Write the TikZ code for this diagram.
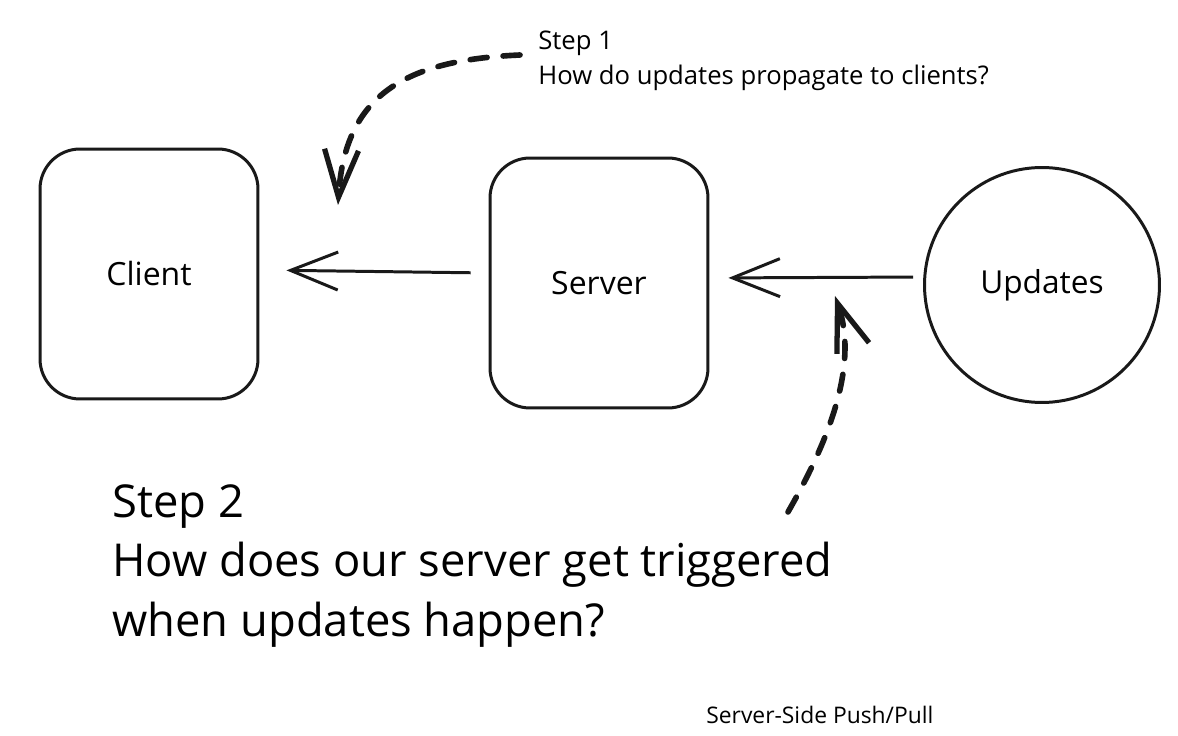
\documentclass[tikz,border=0pt]{standalone}
\usepackage{fontspec}
\setmainfont{Open Sans}
\usetikzlibrary{arrows.meta}
\tikzset{
  block/.style  = {draw=black!90, line width=1.7pt, rounded corners=0.8cm,
                   minimum width=4.36cm, minimum height=5cm,
                   font=\fontsize{18.2}{21}\selectfont},
  source/.style = {circle, draw=black!90, line width=1.7pt,
                   minimum size=4.7cm, font=\fontsize{18}{21}\selectfont},
  flow/.style   = {line width=1.7pt, black!90,
                   -{Straight Barb[length=0.95cm,width=0.76cm,line width=1.7pt]}},
  hint/.style   = {line width=3.2pt, black!90, line cap=round,
                   dash pattern=on 0.34cm off 0.32cm,
                   -{Straight Barb[length=0.95cm,width=0.68cm,line width=3pt]}},
}
\begin{document}
\begin{tikzpicture}[x=0.02cm,y=-0.02cm]
\useasboundingbox (0,0) rectangle (1178,736);
% Boxes
\node[block]  (client)  at (149,274) {Client};
\node[block]  (server)  at (599,283) {Server};
\node[source] (updates) at (1042,285) {Updates};
% Solid arrows
\draw[flow, shorten <=0.36cm, shorten >=0.54cm]
  ([yshift=0.2cm]server.west) -- ([yshift=0.08cm]client.east);
\draw[flow, shorten <=0.2cm, shorten >=0.38cm]
  ([yshift=0.16cm]updates.west) -- ([yshift=0.1cm]server.east);
% Notes
\node[anchor=north west, align=left, inner sep=0pt,
      font=\fontsize{14.6}{19.6}\selectfont] (step1) at (538,31)
  {Step 1\\How do updates propagate to clients?};
\node[anchor=north west, align=left, inner sep=0pt,
      font=\fontsize{25.8}{34}\selectfont] (step2) at (112,484)
  {Step 2\\How does our server get triggered\\when updates happen?};
\node[anchor=north west, inner sep=0pt,
      font=\fontsize{13}{15}\selectfont] (title) at (706,706)
  {Server-Side Push/Pull};
% Dashed pointers
\coordinate (hint1) at (338,205);
\coordinate (tail2) at (788,512);
\coordinate (hint2) at (835,296);
\draw[hint] ([shift={(-18,24)}]step1.north west)
  .. controls (405,60) and (345,95) .. (hint1);
\draw[hint] (tail2) .. controls (835,430) and (857,360) .. (hint2);
\end{tikzpicture}
\end{document}
